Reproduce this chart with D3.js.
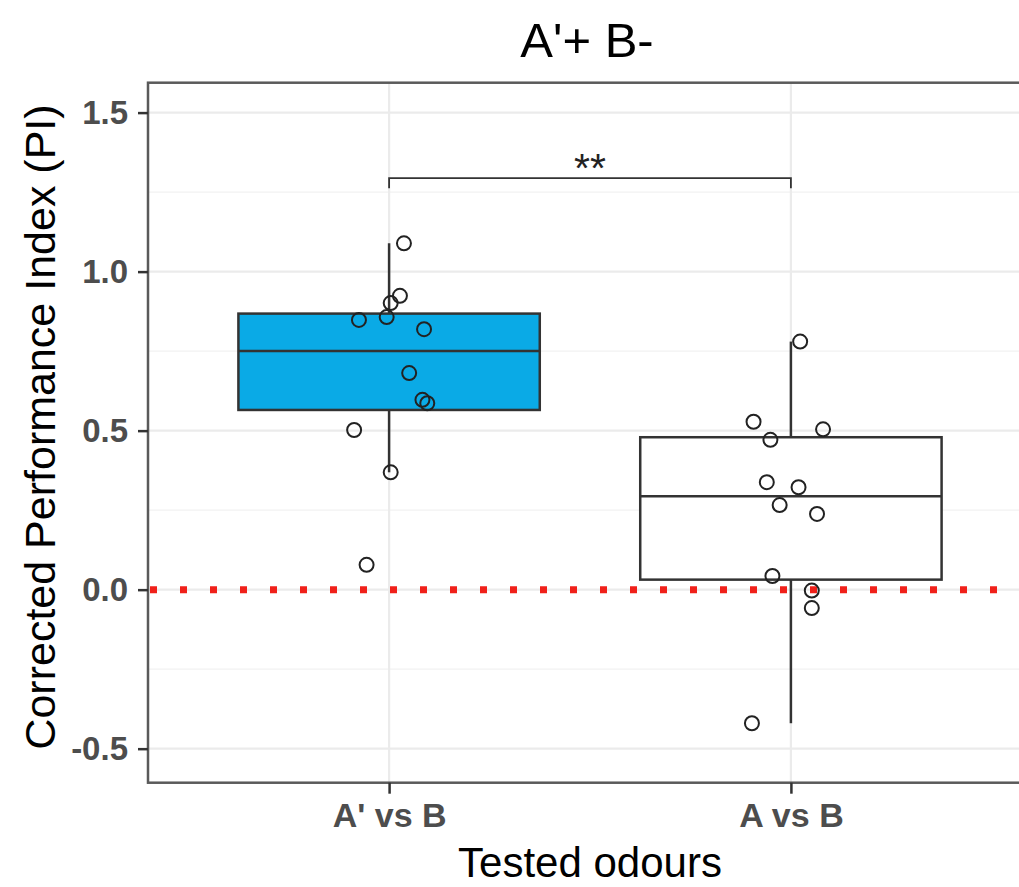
<!DOCTYPE html>
<html>
<head>
<meta charset="utf-8">
<script src="https://cdn.jsdelivr.net/npm/d3@7"></script>
<style>
  html, body { margin: 0; padding: 0; background: #fff; }
  svg { display: block; }
  text { font-family: "Liberation Sans", Arial, sans-serif; }
</style>
</head>
<body>
<svg id="chart" width="1019" height="887"></svg>
<script>
// ---- data ----
const categories = ["A' vs B", "A vs B"];
const fills = ["#0AAAE6", "#FFFFFF"];
const valuesAprime = [1.089, 0.924, 0.901, 0.848, 0.857, 0.819, 0.681, 0.597, 0.586, 0.502, 0.369, 0.078];
const jitterAprime = [0.037, 0.027, 0.004, -0.075, -0.006, 0.087, 0.050, 0.083, 0.095, -0.087, 0.004, -0.056];
const valuesA = [0.780, 0.528, 0.471, 0.504, 0.338, 0.322, 0.266, 0.238, 0.043, -0.003, -0.058, -0.420];
const jitterA = [0.023, -0.093, -0.051, 0.080, -0.060, 0.019, -0.028, 0.065, -0.046, 0.052, 0.052, -0.097];
const yMajorTicks = [-0.5, 0.0, 0.5, 1.0, 1.5];
const yMinorTicks = [-0.25, 0.25, 0.75, 1.25];
const yDomain = [-0.607, 1.594];
const titleText = "A'+ B-";
const xTitle = "Tested odours";
const yTitle = "Corrected Performance Index (PI)";
const signifLabel = "**";
const bracketY = 1.294, bracketTick = 0.032;
const refLine = 0;

const groups = [
  { cat: categories[0], values: valuesAprime, jitter: jitterAprime, fill: fills[0] },
  { cat: categories[1], values: valuesA, jitter: jitterA, fill: fills[1] }
];

// ---- layout ----
const svg = d3.select("#chart");
const panel = { left: 148, right: 1032, top: 82.7, bottom: 782.7 };

const x = d3.scalePoint().domain(categories).range([panel.left, panel.right]).padding(0.6);
const step = x.step();
const y = d3.scaleLinear().domain(yDomain).range([panel.bottom, panel.top]);

svg.append("defs").append("clipPath").attr("id", "clip")
  .append("rect").attr("x", panel.left).attr("y", panel.top)
  .attr("width", panel.right - panel.left).attr("height", panel.bottom - panel.top);

const g = svg.append("g").attr("clip-path", "url(#clip)");

// grid
g.selectAll(".minor").data(yMinorTicks).enter().append("line")
  .attr("x1", panel.left).attr("x2", panel.right)
  .attr("y1", d => y(d)).attr("y2", d => y(d))
  .attr("stroke", "#F2F2F2").attr("stroke-width", 1.2);
g.selectAll(".major").data(yMajorTicks).enter().append("line")
  .attr("x1", panel.left).attr("x2", panel.right)
  .attr("y1", d => y(d)).attr("y2", d => y(d))
  .attr("stroke", "#EBEBEB").attr("stroke-width", 2.2);
g.selectAll(".vmajor").data(categories).enter().append("line")
  .attr("x1", d => x(d)).attr("x2", d => x(d))
  .attr("y1", panel.top).attr("y2", panel.bottom)
  .attr("stroke", "#EBEBEB").attr("stroke-width", 2.2);

// boxplots
const boxW = 0.75 * step;
groups.forEach(gr => {
  const s = gr.values.slice().sort(d3.ascending);
  const q1 = d3.quantile(s, 0.25), med = d3.quantile(s, 0.5), q3 = d3.quantile(s, 0.75);
  const iqr = q3 - q1;
  const lo = d3.min(s.filter(v => v >= q1 - 1.5 * iqr));
  const hi = d3.max(s.filter(v => v <= q3 + 1.5 * iqr));
  const cx = x(gr.cat);
  g.append("line").attr("x1", cx).attr("x2", cx).attr("y1", y(hi)).attr("y2", y(q3))
    .attr("stroke", "#333").attr("stroke-width", 2.5);
  g.append("line").attr("x1", cx).attr("x2", cx).attr("y1", y(q1)).attr("y2", y(lo))
    .attr("stroke", "#333").attr("stroke-width", 2.5);
  g.append("rect").attr("x", cx - boxW / 2).attr("width", boxW)
    .attr("y", y(q3)).attr("height", y(q1) - y(q3))
    .attr("fill", gr.fill).attr("stroke", "#333").attr("stroke-width", 2.5);
  g.append("line").attr("x1", cx - boxW / 2).attr("x2", cx + boxW / 2)
    .attr("y1", y(med)).attr("y2", y(med))
    .attr("stroke", "#333").attr("stroke-width", 2.5);
});

// reference line
g.append("line").attr("x1", panel.left).attr("x2", panel.right)
  .attr("y1", y(refLine)).attr("y2", y(refLine))
  .attr("stroke", "#F0201A").attr("stroke-width", 7)
  .attr("stroke-dasharray", "7,23").attr("stroke-dashoffset", -2);

// points
groups.forEach(gr => {
  g.selectAll(null).data(gr.values.map((v, i) => ({ v, j: gr.jitter[i] }))).enter()
    .append("circle")
    .attr("cx", d => x(gr.cat) + d.j * step)
    .attr("cy", d => y(d.v))
    .attr("r", 7)
    .attr("fill", "none").attr("stroke", "#222").attr("stroke-width", 2);
});

// significance bracket
const bx1 = x(categories[0]), bx2 = x(categories[1]);
g.append("path")
  .attr("d", `M${bx1},${y(bracketY - bracketTick)}V${y(bracketY)}H${bx2}V${y(bracketY - bracketTick)}`)
  .attr("fill", "none").attr("stroke", "#333").attr("stroke-width", 1.8);
svg.append("text").attr("x", (bx1 + bx2) / 2).attr("y", y(bracketY) + 4)
  .attr("text-anchor", "middle").attr("font-size", 41).attr("fill", "#222")
  .text(signifLabel);

// panel border
svg.append("rect").attr("x", panel.left).attr("y", panel.top)
  .attr("width", panel.right - panel.left).attr("height", panel.bottom - panel.top)
  .attr("fill", "none").attr("stroke", "#5A5A5A").attr("stroke-width", 2.5);

// y axis
const fmt = d => d3.format(".1f")(d).replace("\u2212", "-");
const yAxis = svg.append("g").attr("transform", `translate(${panel.left},0)`)
  .call(d3.axisLeft(y).tickValues(yMajorTicks).tickFormat(fmt).tickSize(10).tickPadding(10));
yAxis.select(".domain").remove();
yAxis.selectAll(".tick line").attr("stroke", "#333").attr("stroke-width", 2.5);
yAxis.selectAll(".tick text").attr("font-size", 33).attr("font-weight", "bold")
  .attr("fill", "#4D4D4D").attr("font-family", "Liberation Sans, Arial, sans-serif");

// x axis
const xAxis = svg.append("g").attr("transform", `translate(0,${panel.bottom})`)
  .call(d3.axisBottom(x).tickSize(11).tickPadding(9));
xAxis.select(".domain").remove();
xAxis.selectAll(".tick line").attr("stroke", "#333").attr("stroke-width", 2.5);
xAxis.selectAll(".tick text").attr("font-size", 34).attr("font-weight", "bold")
  .attr("fill", "#4D4D4D").attr("font-family", "Liberation Sans, Arial, sans-serif");

// titles
svg.append("text").attr("x", 587).attr("y", 57)
  .attr("text-anchor", "middle").attr("font-size", 49).attr("fill", "#000")
  .text(titleText);
svg.append("text").attr("x", 590).attr("y", 877)
  .attr("text-anchor", "middle").attr("font-size", 42).attr("fill", "#000")
  .text(xTitle);
svg.append("text")
  .attr("transform", `translate(55,427) rotate(-90)`)
  .attr("text-anchor", "middle").attr("font-size", 43).attr("fill", "#000")
  .text(yTitle);
</script>
</body>
</html>
